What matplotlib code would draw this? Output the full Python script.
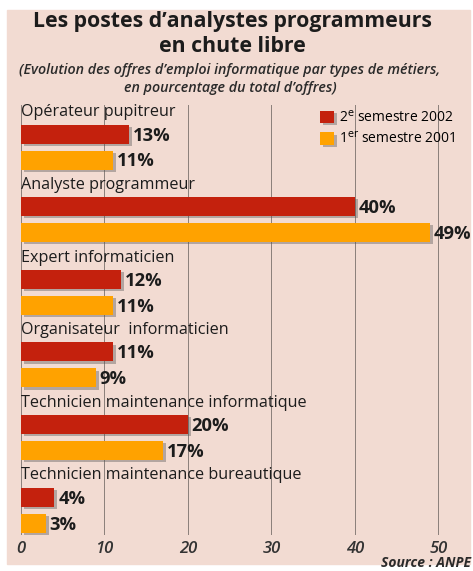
import matplotlib
matplotlib.use('Agg')
import matplotlib.pyplot as plt
import matplotlib.patheffects as pe
from matplotlib.patches import Rectangle

# données (en % du total des offres)
metiers = ['Opérateur pupitreur', 'Analyste programmeur', 'Expert informaticien',
           'Organisateur  informaticien', 'Technicien maintenance informatique',
           'Technicien maintenance bureautique']
sem_2002 = [13, 40, 12, 11, 20, 4]
sem_2001 = [11, 49, 11, 9, 17, 3]
graduations = [0, 10, 20, 30, 40, 50]

rouge = '#c4210d'
orange = '#ffa200'
fond = '#f2dbd2'
texte = '#1c1c1c'

W, H = 473, 571
fig = plt.figure(figsize=(W / 100, H / 100), dpi=100)
fig.patch.set_facecolor('white')

#fond rose du graphique
fig.patches.append(Rectangle((7 / W, 1 - 564 / H), 463 / W, 554 / H,
                             transform=fig.transFigure, color=fond, zorder=-10))

ax = fig.add_axes([21 / W, 1 - 535 / H, 444 / W, 430 / H])
ax.set_facecolor('none')
for s in ax.spines.values():
    s.set_visible(False)

ombre = [pe.SimplePatchShadow(offset=(2, -1.5), shadow_rgbFace='#555555', alpha=0.4), pe.Normal()]

y = list(range(len(metiers)))
dy = 26 / 72.7
h = 19 / 72.7
b1 = ax.barh(y, sem_2002, height=h, color=rouge, label='2$^{\\rm e}$ semestre 2002', zorder=3)
b2 = ax.barh([v + dy for v in y], sem_2001, height=h, color=orange, label='1$^{\\rm er}$ semestre 2001', zorder=3)
for b in list(b1) + list(b2):
    b.set_path_effects(ombre)

for i, nom in enumerate(metiers):
    ax.text(0, i - 0.30, nom, fontsize=11.6, family='Open Sans', color=texte, va='center', ha='left')
    ax.text(sem_2002[i] + 0.45, i + 0.02, f'{sem_2002[i]}%', fontsize=13.2, weight='bold',
            family='Open Sans', color=texte, va='center')
    ax.text(sem_2001[i] + 0.45, i + dy + 0.02, f'{sem_2001[i]}%', fontsize=13.2, weight='bold',
            family='Open Sans', color=texte, va='center')

ax.set_xlim(0, 53.2)
ax.set_ylim(5.52, -0.40)
ax.set_yticks([])
ax.set_xticks(graduations)
ax.set_xticklabels(graduations, fontsize=12, style='italic', weight='semibold', family='Open Sans', color='#333333')
ax.tick_params(axis='x', length=0, pad=4)
ax.grid(axis='x', color='#8a7f7a', linewidth=0.7, zorder=0)
for l in ax.get_xgridlines():
    l.set_zorder(0)

ax.legend(loc='upper left', bbox_to_anchor=(313 / W, 1 - 103 / H), bbox_transform=fig.transFigure,
          frameon=False, handlelength=1.0, handleheight=1.0, handletextpad=0.35,
          labelspacing=0.4, borderpad=0, prop={'family': 'Open Sans', 'size': 10})

fig.text(232 / W, 1 - 22 / H, 'Les postes d\u2019analystes programmeurs', ha='center', va='center',
         fontsize=15.3, weight='bold', family='Open Sans', color=texte)
fig.text(232 / W, 1 - 47 / H, 'en chute libre', ha='center', va='center',
         fontsize=15.3, weight='bold', family='Open Sans', color=texte)
fig.text(230 / W, 1 - 70 / H, '(Evolution des offres d\u2019emploi informatique par types de métiers,',
         ha='center', va='center', fontsize=10.3, style='italic', weight='semibold', family='Open Sans', color='#2a2a2a')
fig.text(230 / W, 1 - 88 / H, 'en pourcentage du total d\u2019offres)',
         ha='center', va='center', fontsize=10.3, style='italic', weight='semibold', family='Open Sans', color='#2a2a2a')
fig.text(471 / W, 1 - 563 / H, 'Source : ANPE', ha='right', va='center',
         fontsize=10, style='italic', weight='bold', family='Open Sans', color='#2a2a2a')

fig.savefig('out.png', dpi=100)
